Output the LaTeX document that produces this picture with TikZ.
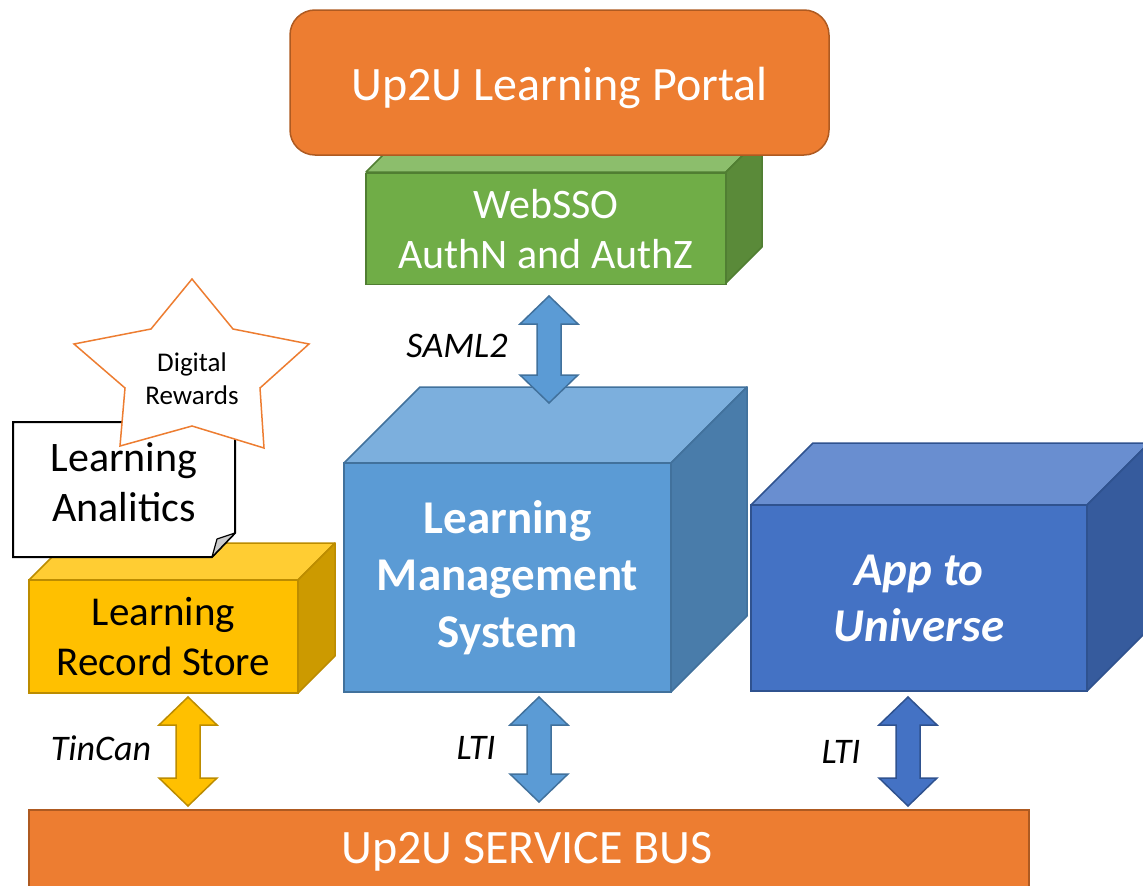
\documentclass[tikz,border=0pt]{standalone}
\usepackage{fontspec}
\setmainfont{Carlito}
\definecolor{orng}{HTML}{ED7D31}
\definecolor{orngB}{HTML}{AE5A21}
\definecolor{grnF}{HTML}{70AD47}
\definecolor{grnT}{HTML}{8CBE6C}
\definecolor{grnR}{HTML}{5A8A39}
\definecolor{grnB}{HTML}{507E32}
\definecolor{lbF}{HTML}{5B9BD5}
\definecolor{lbT}{HTML}{7CAFDD}
\definecolor{lbR}{HTML}{497CAA}
\definecolor{lbB}{HTML}{41719C}
\definecolor{dbF}{HTML}{4472C4}
\definecolor{dbT}{HTML}{698ED0}
\definecolor{dbR}{HTML}{365B9D}
\definecolor{dbB}{HTML}{2F528F}
\definecolor{yF}{HTML}{FFC000}
\definecolor{yT}{HTML}{FFCD33}
\definecolor{yR}{HTML}{CC9A00}
\definecolor{yB}{HTML}{BC8C00}
% #1 x1, #2 y1, #3 x2, #4 y2, #5 depth, #6 top colour, #7 right colour, #8 border
\newcommand\cubeback[8]{%
  \draw[fill=#6, draw=#8, line width=1.5pt, line join=round]
    (#1,#2) -- (#1+#5,#2-#5) -- (#3+#5,#2-#5) -- (#3,#2) -- cycle;
  \draw[fill=#7, draw=#8, line width=1.5pt, line join=round]
    (#3,#2) -- (#3+#5,#2-#5) -- (#3+#5,#4-#5) -- (#3,#4) -- cycle;
}
% #1 style, #2 x, #3 y top, #4 y bottom
\newcommand\dblarrow[4]{%
  \draw[#1, line width=1.5pt, line join=miter]
    (#2,#3) -- (#2+29,#3+28) -- (#2+12,#3+28) -- (#2+12,#4-28) -- (#2+29,#4-28)
    -- (#2,#4) -- (#2-29,#4-28) -- (#2-12,#4-28) -- (#2-12,#3+28) -- (#2-29,#3+28) -- cycle;
}
\begin{document}
\begin{tikzpicture}[x=1pt,y=-1pt,
  front/.style={draw, line width=1.5pt, align=center, inner sep=0pt},
  lbl/.style={font=\fontsize{36}{42}\selectfont\itshape, inner sep=0pt}]
\useasboundingbox (0,0) rectangle (1143,886);
\clip (0,0) rectangle (1143,886);

% WebSSO
\cubeback{366}{172}{726}{283}{36}{grnT}{grnR}{grnB}
\node[front, fill=grnF, draw=grnB, text=white, minimum width=360pt, minimum height=111pt,
  font=\fontsize{42}{50}\selectfont] (sso) at (546,229) {WebSSO\\AuthN and AuthZ};

% Portal
\node[draw=orngB, fill=orng, line width=1.5pt, rounded corners=25pt, minimum width=539pt,
  minimum height=145pt] (portal) at (559.5,82.5) {};
\node[text=white, font=\fontsize{48}{56}\selectfont, anchor=base, inner sep=0pt] (portalt)
  at (559.5,100) {Up2U Learning Portal};

% LRS
\cubeback{29}{580}{298}{693}{37}{yT}{yR}{yB}
\node[front, fill=yF, draw=yB, text=black, minimum width=269pt, minimum height=113pt,
  font=\fontsize{41}{50}\selectfont] (lrs) at (163.5,636.5) {Learning\\Record Store};

% Learning Analitics note
\draw[fill=white, draw=black, line width=2pt, line join=miter]
  (13,422) -- (235,422) -- (235,533) -- (212,557) -- (13,557) -- cycle;
\draw[fill=black!20, draw=black, line width=1.2pt, line join=round]
  (235,533) -- (212,557) -- (217,539) -- cycle;
\node[align=center, font=\fontsize{42}{50}\selectfont, inner sep=0pt] (la) at (124,482)
  {Learning\\Analitics};

% Star
\draw[fill=white, draw=orng, line width=1.5pt, line join=miter]
  (192,279) -- (233,329) -- (309,344) -- (260,388) -- (264,448) -- (192,426)
  -- (120,446) -- (125,388) -- (74,344) -- (151,329) -- cycle;
\node[align=center, font=\fontsize{27}{33}\selectfont, inner sep=0pt] (dr) at (192,379)
  {Digital\\Rewards};

% LMS
\cubeback{344}{463}{671}{692}{76}{lbT}{lbR}{lbB}
\node[front, fill=lbF, draw=lbB, text=white, minimum width=327pt, minimum height=229pt,
  font=\fontsize{47}{57}\selectfont\bfseries] (lms) at (507.5,577.5)
  {Learning\\Management\\System};

% App to Universe
\cubeback{751}{505}{1087}{691}{62}{dbT}{dbR}{dbB}
\node[front, fill=dbF, draw=dbB, text=white, minimum width=336pt, minimum height=186pt,
  font=\fontsize{47}{56}\selectfont\bfseries\itshape] (app) at (919,598)
  {App to\\Universe};

% Service bus
\draw[fill=orng, draw=orngB, line width=1.5pt] (29,810) rectangle (1029,900);
\node[text=white, font=\fontsize{48}{56}\selectfont, inner sep=0pt] (bus) at (527,852)
  {Up2U SERVICE BUS};

% Arrows
\dblarrow{fill=lbF, draw=lbB}{549}{296}{403}
\dblarrow{fill=yF, draw=yB}{188}{697}{806}
\dblarrow{fill=lbF, draw=lbB}{539}{697}{802}
\dblarrow{fill=dbF, draw=dbB}{908}{697}{806}

% Labels
\node[lbl] (l1) at (457,346) {SAML2};
\node[lbl] (l2) at (101,748) {TinCan};
\node[lbl] (l3) at (476,748) {LTI};
\node[lbl] (l4) at (841,752) {LTI};
\end{tikzpicture}
\end{document}
